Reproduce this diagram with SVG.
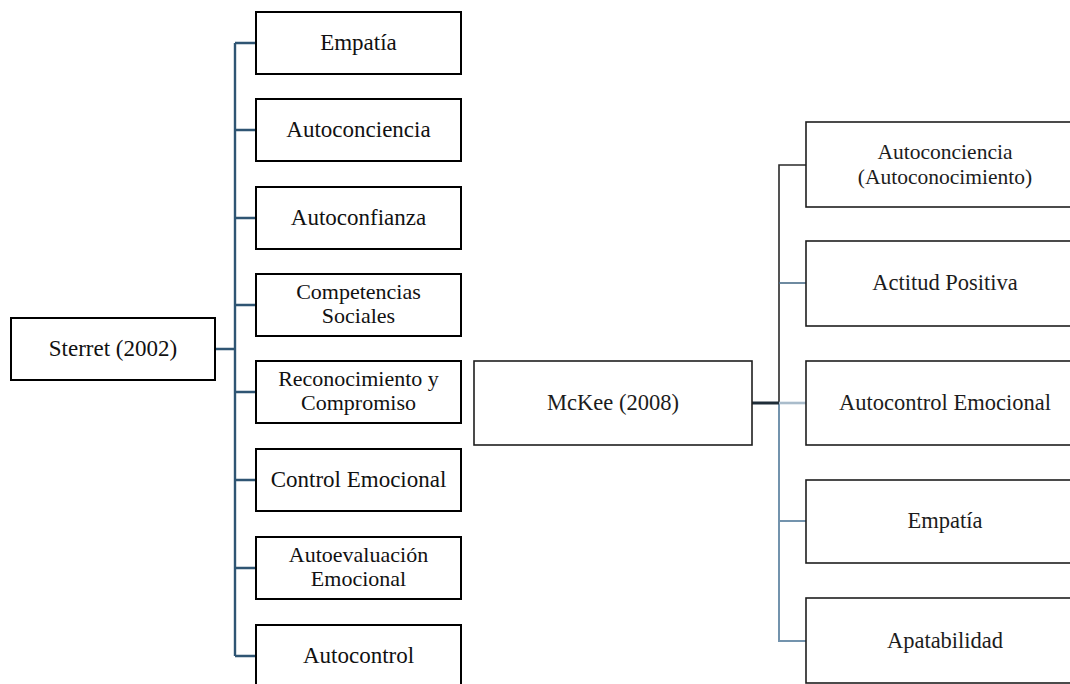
<svg xmlns="http://www.w3.org/2000/svg" width="1070" height="684" viewBox="0 0 1070 684">
  <style>
    .box { fill: #ffffff; stroke: #000000; stroke-width: 2; }
    .boxr { fill: #ffffff; stroke: #1e1e1e; stroke-width: 1.6; }
    text { font-family: 'Liberation Serif', 'Times New Roman', serif; }
    .lbl { font-size: 23px; fill: #111111; text-anchor: middle; }
    .lbl2 { font-size: 22px; fill: #111111; text-anchor: middle; }
    .lblr { font-size: 22.5px; fill: #1c1c1c; text-anchor: middle; }
    .lblr2 { font-size: 21.5px; fill: #1c1c1c; text-anchor: middle; }
    .cl { fill: none; stroke: #2f5573; stroke-width: 2.4; }
  </style>
  <rect width="1070" height="684" fill="#ffffff"/>

  <!-- connectors -->
  <g id="connectors">
    <!-- Sterret tree -->
    <path class="cl" d="M215 349 H235 M235 43 V656 M235 43 H256 M235 130 H256 M235 218 H256 M235 305 H256 M235 392 H256 M235 480 H256 M235 568 H256 M235 656 H256"/>
    <!-- McKee tree -->
    <path d="M779 403 V165 H806" fill="none" stroke="#2a2a2a" stroke-width="1.6"/>
    <path d="M779 283 H806" fill="none" stroke="#4a6d88" stroke-width="1.6"/>
    <path d="M779 403 V641 H806 M779 521 H806" fill="none" stroke="#7393ad" stroke-width="2"/>
    <path d="M779 403 H806" fill="none" stroke="#a9bccb" stroke-width="2.6"/>
    <path d="M752 403 H779" fill="none" stroke="#1f2d38" stroke-width="3"/>
  </g>

  <!-- Sterret (2002) -->
  <g id="sterret">
    <rect class="box" x="11" y="318" width="204" height="62"/>
    <text class="lbl" x="113" y="356">Sterret (2002)</text>
  </g>
  <g id="s-empatia">
    <rect class="box" x="256" y="12" width="205" height="62"/>
    <text class="lbl" x="358.5" y="50">Empatía</text>
  </g>
  <g id="s-autoconciencia">
    <rect class="box" x="256" y="99" width="205" height="62"/>
    <text class="lbl" x="358.5" y="137">Autoconciencia</text>
  </g>
  <g id="s-autoconfianza">
    <rect class="box" x="256" y="187" width="205" height="62"/>
    <text class="lbl" x="358.5" y="225">Autoconfianza</text>
  </g>
  <g id="s-competencias">
    <rect class="box" x="256" y="274" width="205" height="62"/>
    <text class="lbl2" x="358.5" y="299">Competencias</text>
    <text class="lbl2" x="358.5" y="323">Sociales</text>
  </g>
  <g id="s-reconocimiento">
    <rect class="box" x="256" y="361" width="205" height="62"/>
    <text class="lbl2" x="358.5" y="386">Reconocimiento y</text>
    <text class="lbl2" x="358.5" y="410">Compromiso</text>
  </g>
  <g id="s-control">
    <rect class="box" x="256" y="449" width="205" height="62"/>
    <text class="lbl" x="358.5" y="487">Control Emocional</text>
  </g>
  <g id="s-autoevaluacion">
    <rect class="box" x="256" y="537" width="205" height="62"/>
    <text class="lbl2" x="358.5" y="562">Autoevaluación</text>
    <text class="lbl2" x="358.5" y="586">Emocional</text>
  </g>
  <g id="s-autocontrol">
    <rect class="box" x="256" y="625" width="205" height="62"/>
    <text class="lbl" x="358.5" y="663">Autocontrol</text>
  </g>

  <!-- McKee (2008) -->
  <g id="mckee">
    <rect class="boxr" x="474" y="361" width="278" height="84"/>
    <text class="lblr" x="613" y="410">McKee (2008)</text>
  </g>
  <g id="m-autoconciencia">
    <rect class="boxr" x="806" y="122" width="280" height="85"/>
    <text class="lblr2" x="945" y="159">Autoconciencia</text>
    <text class="lblr2" x="945" y="184">(Autoconocimiento)</text>
  </g>
  <g id="m-actitud">
    <rect class="boxr" x="806" y="241" width="280" height="85"/>
    <text class="lblr" x="945" y="290">Actitud Positiva</text>
  </g>
  <g id="m-autocontrol">
    <rect class="boxr" x="806" y="361" width="280" height="84"/>
    <text class="lblr" x="945" y="410">Autocontrol Emocional</text>
  </g>
  <g id="m-empatia">
    <rect class="boxr" x="806" y="480" width="280" height="83"/>
    <text class="lblr" x="945" y="528">Empatía</text>
  </g>
  <g id="m-apatabilidad">
    <rect class="boxr" x="806" y="598" width="280" height="85"/>
    <text class="lblr" x="945" y="648">Apatabilidad</text>
  </g>
</svg>
